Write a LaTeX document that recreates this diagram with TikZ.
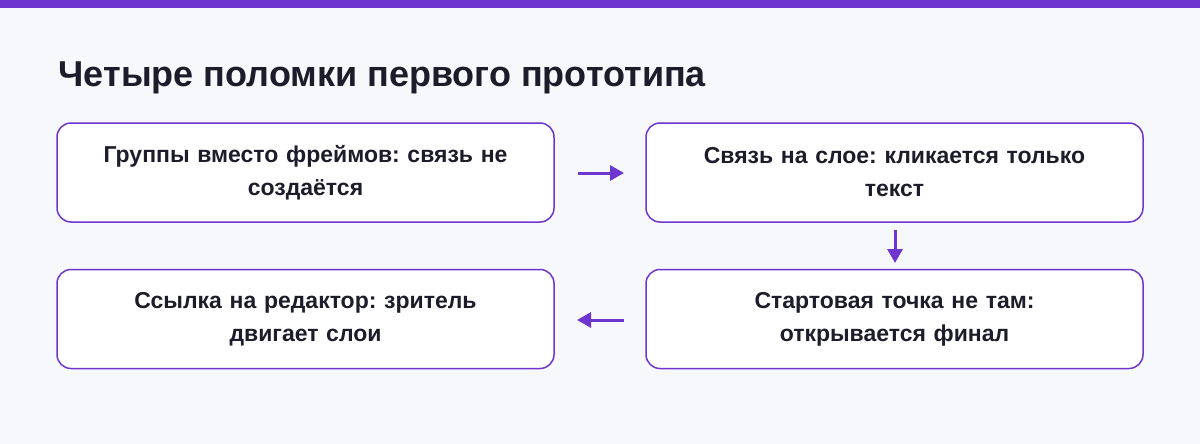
\documentclass[tikz,border=0pt]{standalone}
\usepackage{fontspec}
\setmainfont{Liberation Sans}
\usetikzlibrary{arrows.meta}
\definecolor{pur}{HTML}{6E35D0}
\definecolor{bg}{HTML}{F7F8FC}
\definecolor{txt}{HTML}{1C1C2A}
\begin{document}
\frenchspacing
\begin{tikzpicture}[x=1pt,y=-1pt,
 box/.style={draw=pur,line width=1.5pt,fill=white,rounded corners=14pt,minimum width=497pt,minimum height=99pt,text width=470pt,align=center,font=\fontsize{23}{33}\selectfont\bfseries,text=txt},
 arr/.style={draw=pur,line width=3pt,-{Triangle[length=14pt,width=15pt]}}]
\useasboundingbox (0,0) rectangle (1200,444);
\fill[bg] (0,0) rectangle (1200,444);
\fill[pur] (0,0) rectangle (1200,8);
\node[anchor=west,font=\fontsize{36}{40}\selectfont\bfseries,text=txt] (title) at (55,78) {Четыре поломки первого прототипа};
\node[box] (a) at (305.5,172.5) {Группы вместо фреймов: связь не\\создаётся};
\node[box] (b) at (894.5,172.5) {Связь на слое: кликается только\\текст};
\node[box] (c) at (305.5,319) {Ссылка на редактор: зритель\\двигает слои};
\node[box] (d) at (894.5,319) {Стартовая точка не там:\\открывается финал};
\coordinate (a1) at (578,173); \coordinate (a2) at (624,173);
\coordinate (b1) at (895,230); \coordinate (b2) at (895,263);
\coordinate (c1) at (624,320); \coordinate (c2) at (577,320);
\draw[arr] (a1) -- (a2);
\draw[arr] (b1) -- (b2);
\draw[arr] (c1) -- (c2);
\end{tikzpicture}
\end{document}
